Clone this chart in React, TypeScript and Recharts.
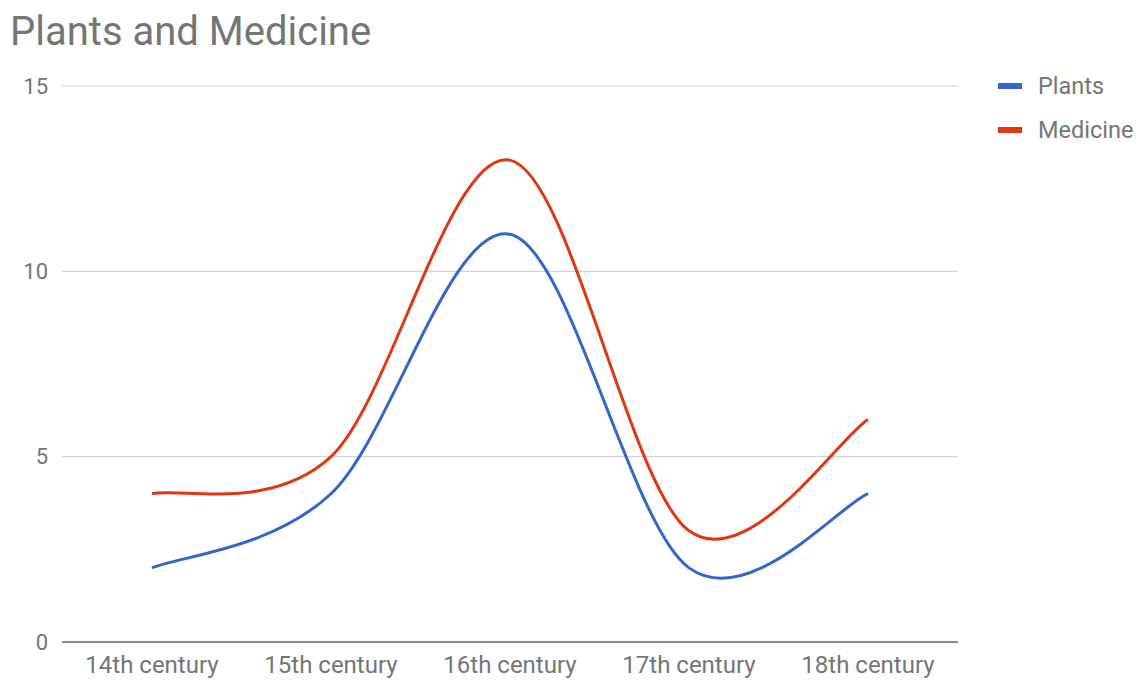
import React from 'react';
import { LineChart, Line, XAxis, YAxis, CartesianGrid } from 'recharts';

const centuries = ['14th century', '15th century', '16th century', '17th century', '18th century'];
const plants = [2, 4, 11, 2, 4];
const medicine = [4, 5, 13, 3, 6];
const yTicks = [0, 5, 10, 15];

const data = centuries.map((c, i) => ({ century: c, Plants: plants[i], Medicine: medicine[i] }));

const series = [
  { key: 'Plants', color: '#3366cc' },
  { key: 'Medicine', color: '#dc3912' },
];

// Catmull-Rom style curve, close to the "function" smoothing of the original
function smoothCurve(context: any) {
  let pts: number[][] = [];
  return {
    areaStart() {},
    areaEnd() {},
    lineStart() {
      pts = [];
    },
    point(x: number, y: number) {
      pts.push([+x, +y]);
    },
    lineEnd() {
      if (!pts.length) return;
      const k = 1 / 6;
      context.moveTo(pts[0][0], pts[0][1]);
      for (let i = 0; i < pts.length - 1; i++) {
        const p0 = pts[Math.max(i - 1, 0)];
        const p1 = pts[i];
        const p2 = pts[i + 1];
        const p3 = pts[Math.min(i + 2, pts.length - 1)];
        context.bezierCurveTo(
          p1[0] + (p2[0] - p0[0]) * k,
          p1[1] + (p2[1] - p0[1]) * k,
          p2[0] - (p3[0] - p1[0]) * k,
          p2[1] - (p3[1] - p1[1]) * k,
          p2[0],
          p2[1]
        );
      }
    },
  };
}

const font = 'Roboto, Arial, sans-serif';

export default function App() {
  return (
    <div style={{ position: 'absolute', left: 0, top: 0, width: 1138, height: 681, background: '#fff', fontFamily: font }}>
      <div style={{ position: 'absolute', left: 10, top: 8, fontSize: 40, color: '#757575', lineHeight: 'normal' }}>
        Plants and Medicine
      </div>

      <LineChart width={1138} height={681} data={data} margin={{ top: 86, right: 180, left: 0, bottom: 0 }}>
        <CartesianGrid vertical={false} stroke="#cccccc" />
        <XAxis
          dataKey="century"
          height={39}
          padding={{ left: 90, right: 90 }}
          interval={0}
          axisLine={{ stroke: '#333333' }}
          tickLine={false}
          tickMargin={8}
          tick={{ fill: '#757575', fontSize: 24, fontFamily: font }}
        />
        <YAxis
          width={62}
          domain={[0, 15]}
          ticks={yTicks}
          axisLine={false}
          tickLine={false}
          tickMargin={8}
          tick={{ fill: '#757575', fontSize: 22, fontFamily: font }}
        />
        {series.map((s) => (
          <Line
            key={s.key}
            dataKey={s.key}
            type={smoothCurve as any}
            stroke={s.color}
            strokeWidth={3}
            dot={false}
            activeDot={false}
            isAnimationActive={false}
          />
        ))}
      </LineChart>

      {series.map((s, i) => (
        <div key={s.key} style={{ position: 'absolute', left: 998, top: 72 + i * 44, display: 'flex', alignItems: 'center', height: 28 }}>
          <span style={{ display: 'inline-block', width: 24, height: 6, background: s.color, marginRight: 16 }} />
          <span style={{ fontSize: 23.5, color: '#757575' }}>{s.key}</span>
        </div>
      ))}
    </div>
  );
}
